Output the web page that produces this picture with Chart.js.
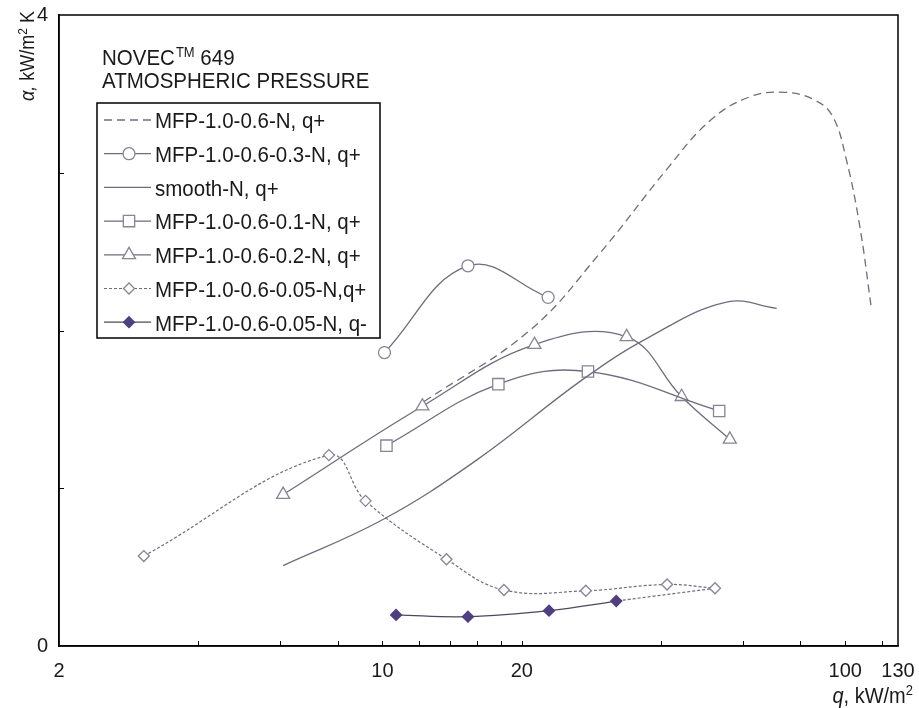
<!DOCTYPE html>
<html>
<head>
<meta charset="utf-8">
<script src="https://cdn.jsdelivr.net/npm/chart.js@4.4.1/dist/chart.umd.min.js"></script>
<style>
  html, body { margin: 0; padding: 0; background: #fff; }
  #wrap { width: 919px; height: 708px; position: relative; }
</style>
</head>
<body>
<div id="wrap"><canvas id="mainChart" width="919" height="708"></canvas></div>
<script>
// q = heat flux, kW/m2 (log axis); a = heat transfer coefficient, kW/m2 K
var mfpQ = [12.3, 20.8, 29.5, 41.1, 51, 62, 74, 86, 94, 100.6, 107.5, 114];
var mfpA = [1.55, 2.0, 2.49, 3.02, 3.33, 3.48, 3.51, 3.46, 3.355, 3.08, 2.66, 2.13];

var mfp03Q = [10.1, 15.3, 22.8];
var mfp03A = [1.86, 2.41, 2.21];

var smoothQ = [6.1, 10, 16, 27.1, 37.8, 55.4, 71.1];
var smoothA = [0.51, 0.80, 1.18, 1.69, 1.96, 2.18, 2.14];

var mfp01Q = [10.2, 17.8, 27.8, 53.4];
var mfp01A = [1.27, 1.66, 1.74, 1.49];

var mfp02Q = [6.1, 12.2, 21.3, 33.7, 44.3, 56.3];
var mfp02A = [0.96, 1.52, 1.91, 1.96, 1.58, 1.31];

var mfp005upQ = [3.05, 7.66, 9.19, 13.75, 18.3, 27.5, 41.2, 52.3];
var mfp005upA = [0.57, 1.21, 0.92, 0.55, 0.355, 0.35, 0.39, 0.366];

var mfp005downQ = [10.7, 15.3, 22.9, 32.0];
var mfp005downA = [0.197, 0.186, 0.224, 0.285];

var xTicks = [2, 4, 6, 8, 10, 12, 14, 16, 18, 20, 40, 60, 80, 100, 120, 130];
var xLabels = [2, 10, 20, 100, 130];
var yLabels = [0, 4];

var legendNames = [
  'MFP-1.0-0.6-N, q+',
  'MFP-1.0-0.6-0.3-N, q+',
  'smooth-N, q+',
  'MFP-1.0-0.6-0.1-N, q+',
  'MFP-1.0-0.6-0.2-N, q+',
  'MFP-1.0-0.6-0.05-N,q+',
  'MFP-1.0-0.6-0.05-N, q-'
];

var lineGray = '#6d6d7d';
var markGray = '#858595';
var purple = '#4f3f7f';
var FONT = '"Liberation Sans", Arial, sans-serif';
var STRETCH = 1.12;   // the source text is a little taller than wide

function pts(xs, ys) {
  return xs.map(function(x, i) { return { x: x, y: ys[i] }; });
}

function series(label, xs, ys, extra) {
  var ds = {
    label: label, data: pts(xs, ys),
    borderColor: lineGray, borderWidth: 1.3, tension: 0.4,
    pointRadius: 0, pointStyle: 'circle',
    pointBackgroundColor: '#fff', pointBorderColor: markGray, pointBorderWidth: 1.3
  };
  for (var k in extra) ds[k] = extra[k];
  return ds;
}

var datasets = [
  series(legendNames[0], mfpQ, mfpA, { borderDash: [8, 5] }),
  series(legendNames[1], mfp03Q, mfp03A, { pointRadius: 6, pointStyle: 'circle' }),
  series(legendNames[2], smoothQ, smoothA, {}),
  series(legendNames[3], mfp01Q, mfp01A, { pointRadius: 8, pointStyle: 'rect' }),
  series(legendNames[4], mfp02Q, mfp02A, { pointRadius: 7.5, pointStyle: 'triangle' }),
  series(legendNames[5], mfp005upQ, mfp005upA, { pointRadius: 5.5, pointStyle: 'rectRot', borderDash: [3, 2], borderWidth: 1.2 }),
  series(legendNames[6], mfp005downQ, mfp005downA, {
    pointRadius: 5.5, pointStyle: 'rectRot', borderColor: '#4a4a5c',
    pointBackgroundColor: purple, pointBorderColor: purple
  }),
  // dotted link from the end of the q+ run back to the end of the q- run
  series('link',
    [mfp005upQ[mfp005upQ.length - 1], mfp005downQ[mfp005downQ.length - 1]],
    [mfp005upA[mfp005upA.length - 1], mfp005downA[mfp005downA.length - 1]],
    { borderDash: [3, 2], borderWidth: 1.2, tension: 0 })
];

function drawMarker(ctx, style, x, y, r, fill, stroke, lw) {
  ctx.save();
  ctx.setLineDash([]);
  ctx.beginPath();
  if (style === 'circle') {
    ctx.arc(x, y, r, 0, Math.PI * 2);
  } else if (style === 'rect') {
    var s = r * Math.SQRT1_2;
    ctx.rect(x - s, y - s, 2 * s, 2 * s);
  } else if (style === 'triangle') {
    ctx.moveTo(x, y - r);
    ctx.lineTo(x + r * Math.sin(Math.PI * 2 / 3), y + r / 2);
    ctx.lineTo(x - r * Math.sin(Math.PI * 2 / 3), y + r / 2);
    ctx.closePath();
  } else if (style === 'rectRot') {
    ctx.moveTo(x, y - r); ctx.lineTo(x + r, y); ctx.lineTo(x, y + r); ctx.lineTo(x - r, y);
    ctx.closePath();
  }
  ctx.fillStyle = fill; ctx.fill();
  ctx.strokeStyle = stroke; ctx.lineWidth = lw; ctx.stroke();
  ctx.restore();
}

// text with a slight vertical stretch, returns its width
function sText(ctx, text, x, y, size, style) {
  ctx.save();
  ctx.font = (style ? style + ' ' : '') + size + 'px ' + FONT;
  ctx.translate(x, y);
  ctx.scale(1, STRETCH);
  ctx.fillText(text, 0, 0);
  var w = ctx.measureText(text).width;
  ctx.restore();
  return w;
}

var decorPlugin = {
  id: 'decor',
  afterDraw: function(chart) {
    var ctx = chart.ctx;
    var area = chart.chartArea;
    var xs = chart.scales.x, ys = chart.scales.y;
    ctx.save();

    // frame (top and right)
    ctx.strokeStyle = '#000'; ctx.lineWidth = 1.5;
    ctx.strokeRect(area.left, area.top, area.right - area.left, area.bottom - area.top);

    // inward ticks
    ctx.lineWidth = 1;
    ctx.beginPath();
    xTicks.forEach(function(v) {
      if (v === 2 || v === 130) return;
      var px = Math.round(xs.getPixelForValue(v)) + 0.5;
      ctx.moveTo(px, area.bottom); ctx.lineTo(px, area.bottom - 5);
    });
    [1, 2, 3].forEach(function(v) {
      var py = Math.round(ys.getPixelForValue(v)) + 0.5;
      ctx.moveTo(area.left, py); ctx.lineTo(area.left + 5, py);
    });
    ctx.stroke();

    ctx.fillStyle = '#1a1a1a';
    ctx.textBaseline = 'alphabetic';
    ctx.textAlign = 'left';

    // heading
    var hx = 102;
    var w1 = sText(ctx, 'NOVEC', hx, 65, 20.5);
    var w2 = sText(ctx, 'TM', hx + w1 + 1, 57, 13);
    sText(ctx, ' 649', hx + w1 + w2 + 1, 65, 20.5);
    sText(ctx, 'ATMOSPHERIC PRESSURE', hx, 87.5, 20.5);

    // legend box
    ctx.strokeStyle = '#000'; ctx.lineWidth = 1.5;
    ctx.strokeRect(97, 103, 283, 235);
    for (var i = 0; i < legendNames.length; i++) {
      var ds = chart.data.datasets[i];
      var y = 120 + i * 33.7;
      ctx.save();
      ctx.strokeStyle = ds.borderColor; ctx.lineWidth = ds.borderWidth;
      ctx.setLineDash(ds.borderDash || []);
      ctx.beginPath(); ctx.moveTo(104, y); ctx.lineTo(151, y); ctx.stroke();
      ctx.restore();
      if (ds.pointRadius > 0) {
        drawMarker(ctx, ds.pointStyle, 129, y, ds.pointRadius, ds.pointBackgroundColor, ds.pointBorderColor, ds.pointBorderWidth);
      }
      ctx.fillStyle = '#1a1a1a';
      sText(ctx, legendNames[i], 155, y + 8.3, 20.5);
    }

    // x axis title
    var base = 703, right = 913;
    ctx.font = '13px ' + FONT;
    var sw = ctx.measureText('2').width;
    ctx.font = '20px ' + FONT;
    var mw = ctx.measureText(', kW/m').width;
    ctx.font = 'italic 20px ' + FONT;
    var qw = ctx.measureText('q').width;
    var x0 = right - sw - mw - qw;
    sText(ctx, 'q', x0, base, 20, 'italic');
    sText(ctx, ', kW/m', x0 + qw, base, 20);
    sText(ctx, '2', x0 + qw + mw, base - 8, 13);

    // y axis title (rotated)
    ctx.translate(34, 101);
    ctx.rotate(-Math.PI / 2);
    var aw = sText(ctx, '\u03b1,', 0, 0, 18, 'italic');
    var kw = sText(ctx, ' kW/m', aw, 0, 18);
    var tw = sText(ctx, '2', aw + kw, -7, 12);
    sText(ctx, ' K', aw + kw + tw, 0, 18);

    ctx.restore();
  }
};

function noPad(axis) {
  axis.paddingLeft = 0; axis.paddingRight = 0;
  axis.paddingTop = 0; axis.paddingBottom = 0;
}

var ctx = document.getElementById('mainChart').getContext('2d');
var chart = new Chart(ctx, {
  type: 'line',
  data: { datasets: datasets },
  options: {
    responsive: false, animation: false, devicePixelRatio: 1,
    layout: { padding: { top: 15, right: 21, bottom: 0, left: 0 } },
    plugins: { legend: { display: false }, tooltip: { enabled: false } },
    scales: {
      x: {
        type: 'logarithmic', min: 2, max: 130,
        afterBuildTicks: function(axis) { axis.ticks = xTicks.map(function(v) { return { value: v }; }); },
        afterFit: function(axis) { axis.height = 62; noPad(axis); },
        ticks: {
          autoSkip: false, maxRotation: 0, padding: 13, color: '#1a1a1a',
          font: { family: FONT, size: 20 },
          callback: function(v) { return xLabels.indexOf(v) >= 0 ? String(v) : ''; }
        },
        grid: { drawOnChartArea: false, drawTicks: false },
        border: { display: true, color: '#000', width: 1.5 }
      },
      y: {
        type: 'linear', min: 0, max: 4,
        afterFit: function(axis) { axis.width = 59; noPad(axis); },
        ticks: {
          stepSize: 1, padding: 11, color: '#1a1a1a',
          font: { family: FONT, size: 20 },
          callback: function(v) { return yLabels.indexOf(v) >= 0 ? String(v) : ''; }
        },
        grid: { drawOnChartArea: false, drawTicks: false },
        border: { display: true, color: '#000', width: 1.5 }
      }
    }
  },
  plugins: [decorPlugin]
});
</script>
</body>
</html>
